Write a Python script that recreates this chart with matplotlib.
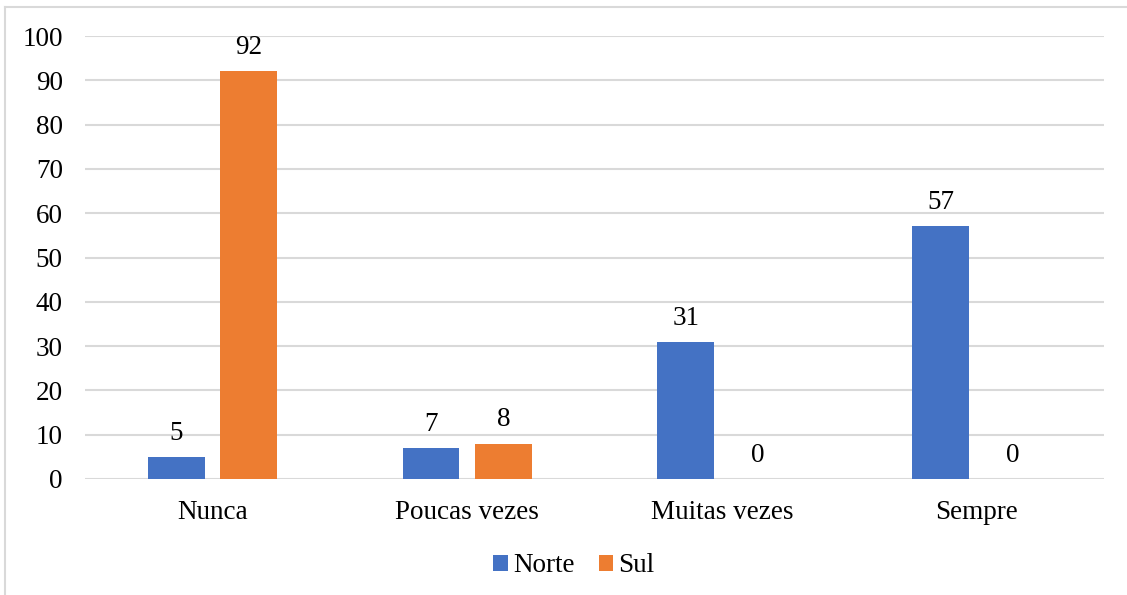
import matplotlib
matplotlib.use("Agg")
import matplotlib.pyplot as plt
from matplotlib.lines import Line2D
import numpy as np

categories = ["Nunca", "Poucas vezes", "Muitas vezes", "Sempre"]
norte = [5, 7, 31, 57]
sul = [92, 8, 0, 0]
series_names = ["Norte", "Sul"]
yticks = [0, 10, 20, 30, 40, 50, 60, 70, 80, 90, 100]

plt.rcParams['font.family'] = ['Liberation Serif', 'DejaVu Serif']

W, H = 1127, 595
fig = plt.figure(figsize=(W / 100, H / 100), dpi=100)
ax = fig.add_axes([85 / W, (H - 479) / H, (1104 - 85) / W, (479 - 36) / H])

x = np.arange(len(categories))
bw = 0.223
off = 0.142
c_n, c_s = "#4472c4", "#ed7d31"
b1 = ax.bar(x - off, norte, bw, color=c_n, label=series_names[0], zorder=3)
b2 = ax.bar(x + off, sul, bw, color=c_s, label=series_names[1], zorder=3)

fs = 19.5
for bars, vals in ((b1, norte), (b2, sul)):
    for rect, v in zip(bars, vals):
        ax.annotate(str(v), (rect.get_x() + rect.get_width() / 2, v),
                    xytext=(0, 8), textcoords="offset points",
                    ha="center", va="bottom", fontsize=fs)

ax.set_xlim(-0.5, len(categories) - 0.5)
ax.set_ylim(0, 100)
ax.set_yticks(yticks)
ax.set_xticks(x)
ax.set_xticklabels(categories)
ax.tick_params(axis="both", length=0, labelsize=fs)
ax.tick_params(axis="y", pad=16)
ax.tick_params(axis="x", pad=15)
for s in ax.spines.values():
    s.set_visible(False)
ax.yaxis.grid(True, color="#d9d9d9", linewidth=1.5, zorder=0)
ax.set_axisbelow(True)

leg = fig.legend(handles=[b1, b2], labels=series_names, loc="center",
                 bbox_to_anchor=(574 / W, 1 - 566 / H), ncol=2, frameon=False,
                 fontsize=fs, handlelength=0.52, handleheight=0.52,
                 handletextpad=0.2, columnspacing=0.9)

fig.add_artist(Line2D([5 / W, 1.0], [1 - 7 / H, 1 - 7 / H], color="#d9d9d9",
                      linewidth=1.5, transform=fig.transFigure))
fig.add_artist(Line2D([5 / W, 5 / W], [1 - 7 / H, 0.0], color="#d9d9d9",
                      linewidth=1.5, transform=fig.transFigure))

fig.savefig("out.png", dpi=100, facecolor="white")
